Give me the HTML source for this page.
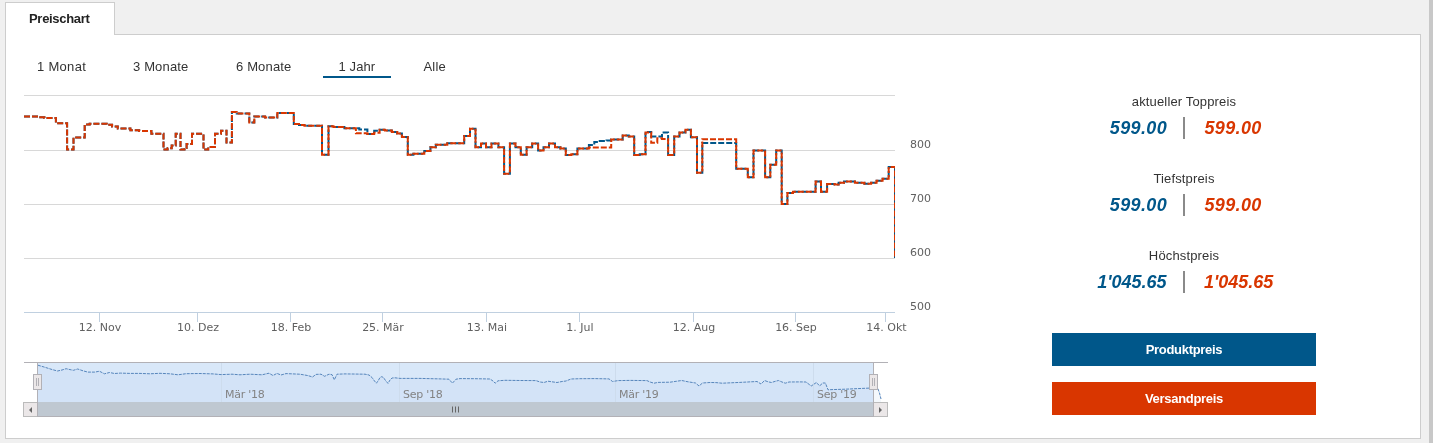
<!DOCTYPE html>
<html lang="de">
<head>
<meta charset="utf-8">
<title>Preischart</title>
<style>
html,body{margin:0;padding:0;}
body{width:1433px;height:443px;overflow:hidden;background:#f0f0f0;position:relative;font-family:"Liberation Sans",Arial,sans-serif;font-size:13px;color:#333;}
.scrollstrip{position:absolute;left:1429px;top:0;width:4px;height:443px;background:#c8c8c8;}
.panel{position:absolute;left:5px;top:34px;width:1414px;height:403px;background:#fff;border:1px solid #cdcdcd;}
.tab{position:absolute;left:5px;top:2px;width:108px;height:32px;background:#fff;border:1px solid #cdcdcd;border-bottom:none;}
.tab span{position:absolute;left:23px;top:4px;line-height:24px;font-weight:bold;color:#222;letter-spacing:-0.3px;}
.rb{position:absolute;top:59px;height:16px;line-height:16px;color:#333;white-space:nowrap;}
.ul{position:absolute;left:323px;top:76px;width:68px;height:2px;background:#00578a;}
.lbl{position:absolute;left:1052px;width:264px;text-align:center;line-height:16px;color:#333;letter-spacing:0.15px;}
.val{position:absolute;font-size:18px;line-height:22px;font-weight:bold;font-style:italic;white-space:nowrap;}
.val.b{color:#00578a;right:266.5px;text-align:right;}
.val.r{color:#d93600;left:1204px;}
.sep{position:absolute;left:1183px;width:2px;height:22px;background:#8a8a8a;}
.btn{position:absolute;left:1052px;width:264px;height:33px;line-height:33px;text-align:center;color:#fff;font-weight:bold;letter-spacing:-0.3px;}
svg{position:absolute;left:0;top:0;}
svg text{font-family:"DejaVu Sans","Liberation Sans",sans-serif;font-size:11px;}
</style>
</head>
<body>
<div class="scrollstrip"></div>
<div class="panel"></div>
<div class="tab"><span>Preischart</span></div>

<div class="rb" style="left:37px;letter-spacing:0.3px">1 Monat</div>
<div class="rb" style="left:133px;letter-spacing:0.15px">3 Monate</div>
<div class="rb" style="left:236px;letter-spacing:0.15px">6 Monate</div>
<div class="rb" style="left:338.5px;letter-spacing:0.1px">1 Jahr</div>
<div class="ul"></div>
<div class="rb" style="left:423.5px;letter-spacing:0.2px">Alle</div>

<svg width="1433" height="443" viewBox="0 0 1433 443">
  <g stroke="#d8d8d8" stroke-width="1" shape-rendering="crispEdges">
    <path d="M24 95.5H895M24 150.5H895M24 204.5H895M24 258.5H895"/>
  </g>
  <g stroke="#c0d0e0" stroke-width="1" shape-rendering="crispEdges">
    <path d="M24 312.5H895"/>
    <path d="M99.5 312V322M197.5 312V322M290.5 312V322M382.5 312V322M486.5 312V322M579.5 312V322M693.5 312V322M795.5 312V322M885.5 312V322"/>
  </g>
  <g fill="none" stroke-width="2" stroke-dasharray="6,2" stroke-linejoin="miter">
    <path stroke="#00578a" d="M24.0 116.5H39.0V117.2H44.4V118.0H55.9V123.3H67.1V149.4H73.5V137.5H84.7V124.4H89.7V123.7H106.7V124.8H112.1V126.4H117.8V128.6H130.4V130.3H139.2V131.1H151.4V133.8H163.5V149.6H167.6V148.3H171.7V145.6H175.7V133.8H180.5V149.6H184.5V148.0H186.6V144.0H192.0V133.8H203.5V149.6H208.2V147.0H215.0V133.8H221.0V130.7H226.5V142.6H231.9h-0.5h0.5V112.0H236.7V113.4H249.3V122.6H254.3V116.5H265.1V117.5H277.3h-0.5h0.5V113.1H293.8V124.0H299.0V125.0H304.4V125.7H322.0h-0.75h0.75V154.7H328.5V126.2H333.5V127.0H344.4V128.3H359.3V129.4H367.4V134.1H374.2V130.7H379.6V129.8H385.0V130.5H391.8V132.1H397.2V133.4H401.9V137.1H407.8V154.7H413.4V153.8H424.3V151.0H430.4V147.3H435.8V144.7H447.3V143.3H464.2V136.1H470.0V128.7H475.5V147.2H481.0V143.4H486.0V147.2H491.5V143.4H498.4V147.2H504.1V173.7H509.9V143.4H515.5V147.2H520.8V154.8H526.6V147.2H532.2V143.4H538.1V150.6H543.5V147.2H549.0V143.4H555.0V147.2H560.4V148.6H565.8V155.0H571.3V154.3H577.4V148.6H588.9V145.1H594.3V142.1H599.7V141.1H606.5V140.5H611.2V139.4H622.7V135.6H628.8V136.4H634.2V155.0H639.7V154.3H645.5V131.9H651.2V136.4H662.0V132.6H668.1V155.0H674.2V136.4H679.5V132.6H685.4V129.8H690.9V137.3H697.0V172.8H702.3V143.0H736.2V168.8H747.8V177.3H753.5V150.5H765.1V177.3H770.3V164.7H776.2V150.5H781.7V204.0H787.4V193.0H793.0V191.7H815.6V181.4H821.0V191.8H827.1V184.1H834.6V184.5H838.6V182.8H844.0V181.4H854.9V182.8H864.4V183.8H871.1V182.8H876.6V180.7H882.6V178.7H888.7V166.9H895.0V258.0"/>
    <path stroke="#d93600" d="M24.0 116.5H39.0V117.2H44.4V118.0H55.9V123.3H67.1V149.4H73.5V137.5H84.7V124.4H89.7V123.7H106.7V124.8H112.1V126.4H117.8V128.6H130.4V130.3H139.2V131.1H151.4V133.8H163.5V149.6H167.6V148.3H171.7V145.6H175.7V133.8H180.5V149.6H184.5V148.0H186.6V144.0H192.0V133.8H203.5V149.6H208.2V147.0H215.0V133.8H221.0V130.7H226.5V142.6H231.9V112.0H236.7V113.4H249.3V122.6H254.3V116.5H265.1V117.5H277.3V113.1H293.8V124.0H299.0V125.0H304.4V125.7H322.0V154.7H328.5V126.2H333.5V127.0H344.4V128.3H355.9V133.2H367.4V134.1H374.2V132.8H379.6V129.8H385.0V130.5H391.8V132.1H397.2V133.4H401.9V137.1H407.8V154.7H413.4V153.8H424.3V151.0H430.4V147.3H435.8V144.7H447.3V143.3H464.2V136.1H470.0V128.7H475.5V147.2H481.0V143.4H486.0V147.2H491.5V143.4H498.4V147.2H504.1V173.7H509.9V143.4H515.5V147.2H520.8V154.8H526.6V147.2H532.2V143.4H538.1V150.6H543.5V147.2H549.0V143.4H555.0V147.2H560.4V148.6H565.8V155.0H571.3V154.3H577.4V148.6H588.9V147.5H611.2V139.4H622.7V135.6H628.8V136.4H634.2V155.0H639.7V154.3H645.5V132.6H651.2V142.8H657.3V138.3H662.0V139.1H668.1V155.0H674.2V136.4H679.5V132.6H685.4V129.8H690.9V137.3H697.0V172.8H702.3V139.3H736.2V168.8H747.8V177.3H753.5V150.5H765.1V177.3H770.3V164.7H776.2V150.5H781.7V204.0H787.4V193.0H793.0V191.7H815.6V181.4H821.0V191.8H827.1V184.1H834.6V184.5H838.6V182.8H844.0V181.4H854.9V182.8H864.4V183.8H871.1V182.8H876.6V180.7H882.6V178.7H888.7V166.9H895.0V258.0"/>
  </g>
  <rect x="895" y="90" width="6" height="175" fill="#fff"/>
  <g fill="#606060" text-anchor="start">
    <text x="910" y="148">800</text>
    <text x="910" y="202">700</text>
    <text x="910" y="256">600</text>
    <text x="910" y="310">500</text>
  </g>
  <g fill="#606060" text-anchor="middle">
    <text x="100" y="331">12. Nov</text>
    <text x="198" y="331">10. Dez</text>
    <text x="291" y="331">18. Feb</text>
    <text x="383" y="331">25. Mär</text>
    <text x="487" y="331">13. Mai</text>
    <text x="580" y="331">1. Jul</text>
    <text x="694" y="331">12. Aug</text>
    <text x="796" y="331">16. Sep</text>
    <text x="886.5" y="331">14. Okt</text>
  </g>

  <!-- navigator -->
  <rect x="37" y="363" width="836" height="39" fill="#d9e8f9"/>
  <path d="M37.9 365.2L45.0 367.3L52.0 369.5L57.5 371.0L62.0 370.0L66.1 368.7L70.0 369.6L73.4 370.3L77.7 369.0L83.0 370.8L87.8 372.1L95.0 372.1L99.4 371.2L104.4 373.8L109.5 372.5L114.5 373.5L120.3 373.1L130.0 373.4L140.0 373.4L150.0 373.8L160.0 373.3L170.0 373.8L178.0 374.8L186.0 373.7L200.0 373.5L213.0 373.9L221.0 374.6L232.0 374.2L240.0 374.8L250.0 374.2L262.0 374.8L269.0 373.2L273.0 375.5L277.0 373.4L281.0 375.0L286.0 373.6L300.0 374.2L308.0 375.6L312.5 377.0L316.0 374.4L321.0 374.2L324.6 376.3L329.0 374.2L332.0 374.6L334.3 379.8L337.0 374.2L345.0 373.9L365.0 374.2L369.0 375.0L372.0 377.5L374.5 381.0L376.4 383.2L378.3 380.5L380.0 377.5L381.7 376.7L383.5 377.5L385.5 380.5L388.0 383.4L390.0 380.0L392.0 378.0L395.0 377.8L400.0 378.4L420.0 378.4L440.0 378.9L449.0 379.2L452.4 383.2L456.0 379.2L460.0 378.6L475.0 378.7L490.0 379.0L493.0 381.0L495.2 383.2L498.0 380.8L505.0 380.3L520.0 380.5L536.0 380.6L540.0 382.0L544.0 382.5L548.0 381.2L552.0 381.8L557.0 382.5L562.0 381.5L566.0 381.0L571.0 379.0L580.0 378.7L595.0 378.6L609.0 378.9L612.6 381.5L618.0 380.6L630.0 380.4L647.0 380.6L650.0 382.0L654.0 383.2L658.0 382.4L670.0 382.2L681.7 380.5L688.0 381.8L695.5 383.0L699.0 386.0L702.5 383.0L710.0 382.5L716.0 382.6L722.0 383.2L740.0 382.4L757.0 381.5L761.0 384.0L764.6 380.5L768.0 381.8L771.5 382.5L775.0 381.4L778.4 380.5L782.0 382.0L785.3 383.2L789.0 382.0L800.0 381.9L806.0 382.0L811.2 386.0L816.4 382.5L819.6 385.9L822.8 383.0L825.4 383.0L828.0 389.8L832.0 389.6L845.0 389.2L860.0 388.5L869.4 388.1L877.9 388.6L879.5 393.0L881.0 399.0L881 402L37.9 402Z" fill="#d3e3f7"/>
  <rect x="874" y="363" width="14" height="39" fill="#fff"/>
  <path d="M874 388.4L877.9 388.6L879.5 393L881 399V402H874Z" fill="#f4f8fc"/>
  <g stroke="#cddced" stroke-width="1" shape-rendering="crispEdges">
    <path d="M221.5 363V402M399.5 363V402M615.5 363V402M813.5 363V402"/>
  </g>
  <path d="M37.9 365.2L45.0 367.3L52.0 369.5L57.5 371.0L62.0 370.0L66.1 368.7L70.0 369.6L73.4 370.3L77.7 369.0L83.0 370.8L87.8 372.1L95.0 372.1L99.4 371.2L104.4 373.8L109.5 372.5L114.5 373.5L120.3 373.1L130.0 373.4L140.0 373.4L150.0 373.8L160.0 373.3L170.0 373.8L178.0 374.8L186.0 373.7L200.0 373.5L213.0 373.9L221.0 374.6L232.0 374.2L240.0 374.8L250.0 374.2L262.0 374.8L269.0 373.2L273.0 375.5L277.0 373.4L281.0 375.0L286.0 373.6L300.0 374.2L308.0 375.6L312.5 377.0L316.0 374.4L321.0 374.2L324.6 376.3L329.0 374.2L332.0 374.6L334.3 379.8L337.0 374.2L345.0 373.9L365.0 374.2L369.0 375.0L372.0 377.5L374.5 381.0L376.4 383.2L378.3 380.5L380.0 377.5L381.7 376.7L383.5 377.5L385.5 380.5L388.0 383.4L390.0 380.0L392.0 378.0L395.0 377.8L400.0 378.4L420.0 378.4L440.0 378.9L449.0 379.2L452.4 383.2L456.0 379.2L460.0 378.6L475.0 378.7L490.0 379.0L493.0 381.0L495.2 383.2L498.0 380.8L505.0 380.3L520.0 380.5L536.0 380.6L540.0 382.0L544.0 382.5L548.0 381.2L552.0 381.8L557.0 382.5L562.0 381.5L566.0 381.0L571.0 379.0L580.0 378.7L595.0 378.6L609.0 378.9L612.6 381.5L618.0 380.6L630.0 380.4L647.0 380.6L650.0 382.0L654.0 383.2L658.0 382.4L670.0 382.2L681.7 380.5L688.0 381.8L695.5 383.0L699.0 386.0L702.5 383.0L710.0 382.5L716.0 382.6L722.0 383.2L740.0 382.4L757.0 381.5L761.0 384.0L764.6 380.5L768.0 381.8L771.5 382.5L775.0 381.4L778.4 380.5L782.0 382.0L785.3 383.2L789.0 382.0L800.0 381.9L806.0 382.0L811.2 386.0L816.4 382.5L819.6 385.9L822.8 383.0L825.4 383.0L828.0 389.8L832.0 389.6L845.0 389.2L860.0 388.5L869.4 388.1L877.9 388.6L879.5 393.0L881.0 399.0" fill="none" stroke="#5786bc" stroke-width="1" stroke-dasharray="3,1"/>
  <g fill="#838383" letter-spacing="-0.25">
    <text x="225" y="398">Mär '18</text>
    <text x="403" y="398">Sep '18</text>
    <text x="619" y="398">Mär '19</text>
    <text x="817" y="398">Sep '19</text>
  </g>
  <!-- scrollbar -->
  <rect x="23.5" y="402.5" width="864" height="14" fill="#bfc8d1" stroke="#bfc8d1" stroke-width="1" shape-rendering="crispEdges"/>
  <rect x="23.5" y="402.5" width="14" height="14" fill="#ebe7e8" stroke="#bbb" stroke-width="1" shape-rendering="crispEdges"/>
  <rect x="873.5" y="402.5" width="14" height="14" fill="#ebe7e8" stroke="#bbb" stroke-width="1" shape-rendering="crispEdges"/>
  <path d="M32 407V413L29 410Z" fill="#666"/>
  <path d="M879 407V413L882 410Z" fill="#666"/>
  <path d="M452.5 406.5V412.5M455.5 406.5V412.5M458.5 406.5V412.5" stroke="#666" stroke-width="1"/>
  <g stroke="#b2b1b6" stroke-width="1" fill="none" shape-rendering="crispEdges">
    <path d="M24 362.5H37.5V416.5H873.5V362.5H888M37.5 362.5H873.5"/>
  </g>
  <!-- handles -->
  <g shape-rendering="crispEdges">
    <rect x="33.5" y="374.5" width="8" height="15" fill="#ebe7e8" stroke="#b2b1b6"/>
    <path d="M36.5 378V386M38.5 378V386" stroke="#b2b1b6" stroke-width="1"/>
    <rect x="869.5" y="374.5" width="8" height="15" fill="#ebe7e8" stroke="#b2b1b6"/>
    <path d="M872.5 378V386M874.5 378V386" stroke="#b2b1b6" stroke-width="1"/>
  </g>
</svg>

<div class="lbl" style="top:94px">aktueller Toppreis</div>
<div class="val b" style="top:117px;letter-spacing:0.35px;right:266px">599.00</div><div class="sep" style="top:117px"></div><div class="val r" style="top:117px;letter-spacing:0.35px;left:1204.5px">599.00</div>
<div class="lbl" style="top:171px">Tiefstpreis</div>
<div class="val b" style="top:194px;letter-spacing:0.35px;right:266px">599.00</div><div class="sep" style="top:194px"></div><div class="val r" style="top:194px;letter-spacing:0.35px;left:1204.5px">599.00</div>
<div class="lbl" style="top:248px">Höchstpreis</div>
<div class="val b" style="top:271px">1'045.65</div><div class="sep" style="top:271px"></div><div class="val r" style="top:271px">1'045.65</div>

<div class="btn" style="top:333px;background:#00578a">Produktpreis</div>
<div class="btn" style="top:382px;background:#d93600">Versandpreis</div>
</body>
</html>
